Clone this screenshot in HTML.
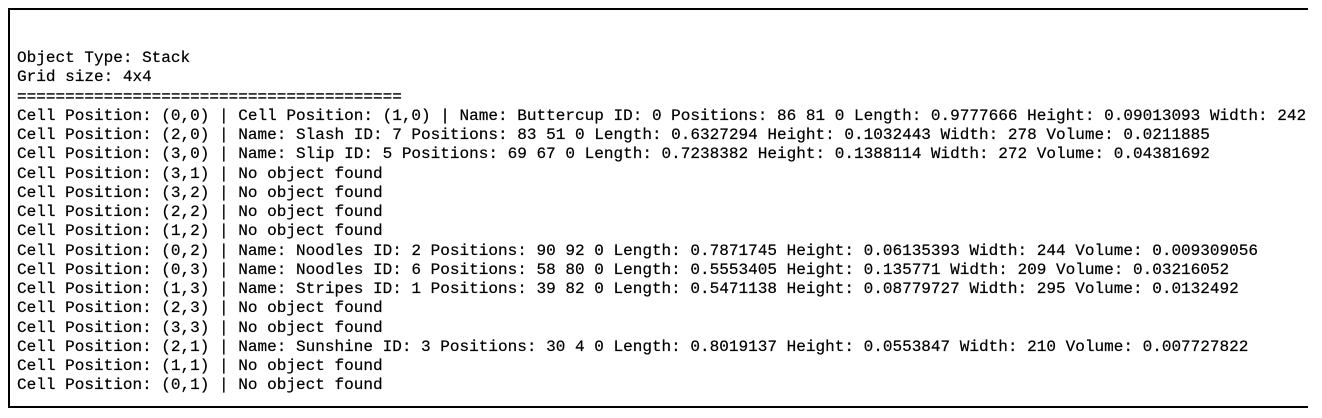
<!DOCTYPE html>
<html><head><meta charset="utf-8"><style>
html,body{margin:0;padding:0;background:#fff;width:1322px;height:418px;overflow:hidden}
.frame{position:absolute;left:8px;top:8px;width:1298px;height:396px;border-top:2px solid #000;border-left:2px solid #000;border-bottom:2px solid #000}
pre{position:absolute;left:17px;top:49px;margin:0;font-family:"Liberation Mono",monospace;font-size:16.05px;line-height:19.25px;color:#000;white-space:pre;-webkit-text-stroke:0.2px #000}
</style></head><body>
<div class="frame"></div>
<pre>Object Type: Stack
Grid size: 4x4
========================================
Cell Position: (0,0) | Cell Position: (1,0) | Name: Buttercup ID: 0 Positions: 86 81 0 Length: 0.9777666 Height: 0.09013093 Width: 242
Cell Position: (2,0) | Name: Slash ID: 7 Positions: 83 51 0 Length: 0.6327294 Height: 0.1032443 Width: 278 Volume: 0.0211885
Cell Position: (3,0) | Name: Slip ID: 5 Positions: 69 67 0 Length: 0.7238382 Height: 0.1388114 Width: 272 Volume: 0.04381692
Cell Position: (3,1) | No object found
Cell Position: (3,2) | No object found
Cell Position: (2,2) | No object found
Cell Position: (1,2) | No object found
Cell Position: (0,2) | Name: Noodles ID: 2 Positions: 90 92 0 Length: 0.7871745 Height: 0.06135393 Width: 244 Volume: 0.009309056
Cell Position: (0,3) | Name: Noodles ID: 6 Positions: 58 80 0 Length: 0.5553405 Height: 0.135771 Width: 209 Volume: 0.03216052
Cell Position: (1,3) | Name: Stripes ID: 1 Positions: 39 82 0 Length: 0.5471138 Height: 0.08779727 Width: 295 Volume: 0.0132492
Cell Position: (2,3) | No object found
Cell Position: (3,3) | No object found
Cell Position: (2,1) | Name: Sunshine ID: 3 Positions: 30 4 0 Length: 0.8019137 Height: 0.0553847 Width: 210 Volume: 0.007727822
Cell Position: (1,1) | No object found
Cell Position: (0,1) | No object found</pre>
</body></html>
